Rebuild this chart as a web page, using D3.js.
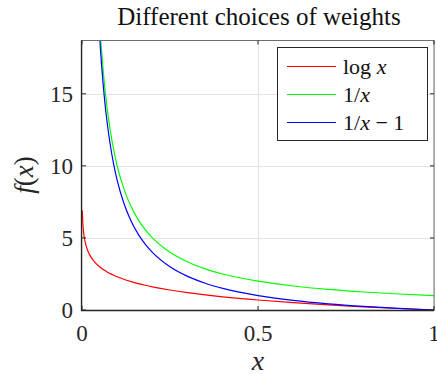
<!DOCTYPE html>
<html>
<head>
<meta charset="utf-8">
<script src="https://cdn.jsdelivr.net/npm/d3@7"></script>
</head>
<body style="margin:0">
<svg id="fig" width="437" height="374"></svg>
<script>
// sample points
const xs = [0.001, 0.002, 0.003, 0.005, 0.0075, 0.01, 0.015, 0.02, 0.03, 0.04, 0.045, 0.05, 0.055, 0.06, 0.065, 0.07, 0.08, 0.09, 0.1, 0.12, 0.14, 0.16, 0.18, 0.2, 0.25, 0.3, 0.35, 0.4, 0.5, 0.6, 0.7, 0.8, 0.9, 1.0]
const logVals = [6.908, 6.215, 5.809, 5.298, 4.893, 4.605, 4.2, 3.912, 3.507, 3.219, 3.101, 2.996, 2.9, 2.813, 2.733, 2.659, 2.526, 2.408, 2.303, 2.12, 1.966, 1.833, 1.715, 1.609, 1.386, 1.204, 1.05, 0.916, 0.693, 0.511, 0.357, 0.223, 0.105, 0]
const invVals = [1000, 500, 333.3, 200, 133.3, 100, 66.67, 50, 33.33, 25, 22.22, 20, 18.18, 16.67, 15.38, 14.29, 12.5, 11.11, 10, 8.333, 7.143, 6.25, 5.556, 5, 4, 3.333, 2.857, 2.5, 2, 1.667, 1.429, 1.25, 1.111, 1]
const invMinusVals = [999, 499, 332.3, 199, 132.3, 99, 65.67, 49, 32.33, 24, 21.22, 19, 17.18, 15.67, 14.38, 13.29, 11.5, 10.11, 9, 7.333, 6.143, 5.25, 4.556, 4, 3, 2.333, 1.857, 1.5, 1, 0.667, 0.429, 0.25, 0.111, 0]

const xTicks = [0, 0.5, 1]
const xTickLabels = ["0", "0.5", "1"]
const yTicks = [0, 5, 10, 15]
const yTickLabels = ["0", "5", "10", "15"]

const series = [
    { name: "log", color: "#ff0000", values: logVals },
    { name: "inv", color: "#00ff00", values: invVals },
    { name: "invm1", color: "#0000ff", values: invMinusVals }
]

const pLeft = 82, pRight = 434, pTop = 40.5, pBottom = 310
const fontName = "Liberation Serif"

const svg = d3.select("#fig")
const x = d3.scaleLinear().domain([0, 1]).range([pLeft, pRight])
const y = d3.scaleLinear().domain([0, 18.7]).range([pBottom, pTop])
const ink = "#262626"

// grid
const grid = svg.append("g").attr("stroke", "#e3e3e3").attr("stroke-width", 1)
grid.selectAll("line.gx").data(xTicks).enter().append("line")
    .attr("x1", d => Math.round(x(d)) + 0.5).attr("x2", d => Math.round(x(d)) + 0.5)
    .attr("y1", pTop).attr("y2", pBottom)
grid.selectAll("line.gy").data(yTicks).enter().append("line")
    .attr("y1", d => Math.round(y(d)) + 0.5).attr("y2", d => Math.round(y(d)) + 0.5)
    .attr("x1", pLeft).attr("x2", pRight)

svg.append("clipPath").attr("id", "clip")
    .append("rect").attr("x", pLeft).attr("y", pTop).attr("width", pRight - pLeft).attr("height", pBottom - pTop)

const line = d3.line().curve(d3.curveMonotoneX)
const plot = svg.append("g").attr("clip-path", "url(#clip)")
series.forEach(s => {
    plot.append("path")
        .attr("fill", "none")
        .attr("stroke", s.color)
        .attr("stroke-width", 1.2)
        .attr("d", line(xs.map((v, i) => [x(v), y(s.values[i])])))
})

// box
const ax = svg.append("g").attr("fill", "none").attr("stroke", ink)
ax.append("rect").attr("x", pLeft - 0.5).attr("y", pTop).attr("width", pRight - pLeft + 0.5).attr("height", pBottom - pTop + 0.5)
    .attr("stroke", "#6e6e6e").attr("stroke-width", 1)
ax.append("path").attr("stroke-width", 1.3)
    .attr("d", `M${pLeft - 0.5},${pTop}V${pBottom + 0.5}H${pRight}`)

// ticks (inward, both sides)
const tickLen = 4
xTicks.forEach(t => {
    ax.append("line").attr("x1", x(t)).attr("x2", x(t)).attr("y1", pBottom).attr("y2", pBottom - tickLen)
    ax.append("line").attr("x1", x(t)).attr("x2", x(t)).attr("y1", pTop).attr("y2", pTop + tickLen)
})
yTicks.forEach(t => {
    ax.append("line").attr("y1", y(t)).attr("y2", y(t)).attr("x1", pLeft).attr("x2", pLeft + tickLen)
    ax.append("line").attr("y1", y(t)).attr("y2", y(t)).attr("x1", pRight).attr("x2", pRight - tickLen)
})

svg.selectAll("text.xt").data(xTicks).enter().append("text")
    .attr("font-family", fontName)
    .attr("x", d => x(d)).attr("y", 341)
    .attr("text-anchor", "middle").attr("font-size", 23).attr("fill", ink)
    .text((d, i) => xTickLabels[i])
svg.selectAll("text.yt").data(yTicks).enter().append("text")
    .attr("font-family", fontName)
    .attr("x", pLeft - 9).attr("y", d => y(d) + 8)
    .attr("text-anchor", "end").attr("font-size", 23).attr("fill", ink)
    .text((d, i) => yTickLabels[i])

// title and labels
svg.append("text").attr("font-family", fontName)
    .attr("x", 259).attr("y", 25)
    .attr("text-anchor", "middle").attr("font-size", 25).attr("fill", "#111")
    .text("Different choices of weights")

const xl = svg.append("text").attr("font-family", fontName)
    .attr("x", 258).attr("y", 370)
    .attr("text-anchor", "middle").attr("font-size", 28).attr("fill", ink)
xl.append("tspan").attr("font-family", fontName).attr("font-style", "italic").text("x")

const yl = svg.append("text").attr("font-family", fontName)
    .attr("transform", "translate(33,175) rotate(-90)")
    .attr("text-anchor", "middle").attr("font-size", 27).attr("fill", ink)
yl.append("tspan").attr("font-family", fontName).attr("font-style", "italic").text("f")
yl.append("tspan").attr("font-family", fontName).text("(")
yl.append("tspan").attr("font-family", fontName).attr("font-style", "italic").text("x")
yl.append("tspan").attr("font-family", fontName).text(")")

// legend
const lg = svg.append("g")
lg.append("rect").attr("x", 277.5).attr("y", 47.5).attr("width", 150).attr("height", 93)
    .attr("fill", "#fff").attr("stroke", ink).attr("stroke-width", 1)
const legendLabels = [
    [["log ", false], ["x", true]],
    [["1/", false], ["x", true]],
    [["1/", false], ["x", true], [" \u2212 1", false]]
]
const rowY = [66.5, 94.5, 122.5]
series.forEach((s, i) => {
    lg.append("line").attr("x1", 287).attr("x2", 336).attr("y1", rowY[i]).attr("y2", rowY[i])
        .attr("stroke", s.color).attr("stroke-width", 1)
    const t = lg.append("text").attr("font-family", fontName)
        .attr("x", 343).attr("y", rowY[i] + 7).attr("font-size", 22).attr("fill", "#111")
    legendLabels[i].forEach(p => t.append("tspan").attr("font-family", fontName)
        .attr("font-style", p[1] ? "italic" : "normal").text(p[0]))
})
</script>
</body>
</html>
